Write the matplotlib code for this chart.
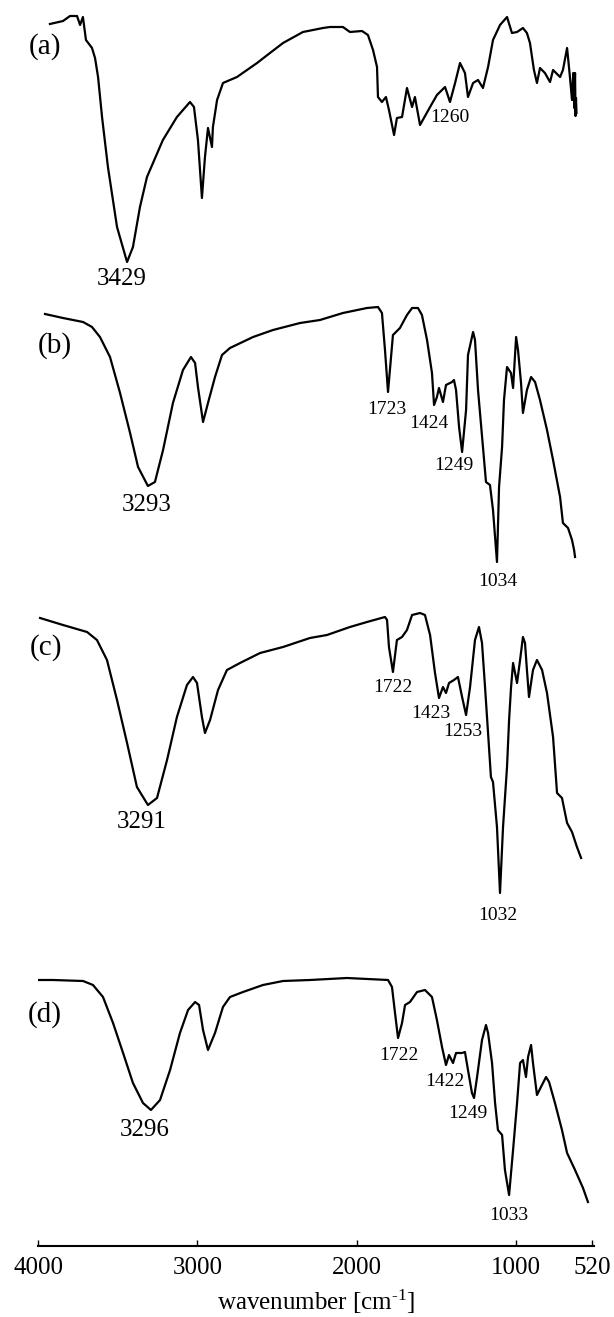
import matplotlib
matplotlib.use("Agg")
import matplotlib.pyplot as plt

plt.rcParams['font.family'] = ['Liberation Serif', 'DejaVu Serif']
plt.rcParams['mathtext.fontset'] = 'custom'
plt.rcParams['mathtext.rm'] = 'Liberation Serif'
plt.rcParams['mathtext.default'] = 'regular'

# spectrum (a)
wn_a = [3925, 3843, 3799, 3755, 3736, 3718, 3699, 3661, 3642, 3623, 3598, 3561, 3504, 3441,
        3404, 3360, 3316, 3216, 3128, 3046, 3021, 2996, 2971, 2952, 2933, 2908, 2902, 2876,
        2839, 2751, 2625, 2544, 2462, 2337, 2211, 2167, 2086, 2042, 1966, 1929, 1897, 1872,
        1866, 1841, 1816, 1797, 1765, 1747, 1715, 1684, 1652, 1634, 1602, 1539, 1496, 1445,
        1414, 1382, 1351, 1320, 1301, 1269, 1238, 1207, 1175, 1144, 1100, 1056, 1025, 993,
        956, 931, 912, 887, 868, 849, 818, 786, 767, 723, 705, 679, 661, 648, 640, 634,
        629, 626, 623, 620]
t_a = [252, 255, 260, 260, 251, 259, 236, 228, 218, 199, 159, 109, 49, 14,
       29, 69, 99, 136, 159, 174, 169, 136, 78, 119, 148, 129, 149, 176,
       193, 199, 213, 223, 233, 244, 248, 249, 249, 244, 245, 241, 226, 209,
       179, 174, 179, 166, 141, 158, 159, 188, 169, 179, 151, 169, 181, 189,
       174, 193, 213, 203, 179, 193, 196, 188, 209, 236, 251, 259, 243, 244,
       248, 243, 233, 206, 193, 208, 203, 194, 206, 199, 206, 228, 199, 176, 203, 168,
       203, 160, 178, 163]

# spectrum (b)
wn_b = [3956, 3843, 3717, 3661, 3611, 3548, 3485, 3422, 3372, 3310, 3266, 3215, 3153, 3090,
        3040, 3014, 2996, 2964, 2933, 2889, 2845, 2795, 2650, 2525, 2355, 2230, 2086, 1935,
        1866, 1841, 1822, 1803, 1772, 1728, 1684, 1652, 1615, 1590, 1558, 1527, 1514, 1496,
        1483, 1458, 1439, 1401, 1389, 1376, 1357, 1338, 1313, 1301, 1269, 1257, 1238, 1207,
        1188, 1163, 1144, 1119, 1106, 1087, 1075, 1056, 1031, 1018, 999, 987, 968, 956,
        931, 905, 880, 849, 805, 767, 723, 705, 673, 648, 635, 629]
t_b = [252, 248, 244, 239, 229, 209, 173, 133, 99, 80, 84, 116, 163, 196,
       209, 203, 179, 144, 163, 189, 211, 218, 229, 236, 243, 246, 253, 258,
       259, 253, 216, 174, 231, 238, 251, 258, 258, 251, 226, 193, 161, 169,
       178, 164, 181, 184, 186, 176, 139, 114, 156, 211, 234, 226, 176, 119,
       84, 81, 56, 4, 79, 119, 166, 199, 193, 178, 229, 216, 183, 153,
       176, 189, 184, 166, 136, 106, 69, 43, 38, 26, 16, 9]

# spectrum (c)
wn_c = [3987, 3843, 3692, 3630, 3567, 3504, 3441, 3379, 3310, 3253, 3190, 3128, 3065, 3027,
        3002, 2971, 2952, 2920, 2870, 2814, 2732, 2606, 2462, 2293, 2186, 2042, 1935, 1822,
        1809, 1797, 1772, 1747, 1715, 1684, 1652, 1602, 1571, 1539, 1508, 1483, 1458, 1439,
        1420, 1389, 1364, 1338, 1313, 1288, 1257, 1232, 1213, 1194, 1175, 1157, 1144, 1119,
        1100, 1081, 1056, 1043, 1031, 1018, 993, 974, 956, 943, 931, 918, 893, 868,
        836, 805, 767, 742, 711, 679, 648, 617, 591]
t_c = [278, 271, 264, 256, 236, 196, 153, 109, 91, 98, 136, 179, 211, 219,
       213, 179, 163, 176, 206, 226, 233, 243, 249, 258, 261, 269, 274, 279,
       276, 249, 224, 256, 259, 266, 281, 283, 281, 261, 223, 198, 209, 203,
       213, 216, 219, 199, 181, 209, 256, 269, 253, 209, 163, 119, 114, 69,
       3, 69, 129, 176, 208, 233, 213, 236, 259, 253, 226, 199, 226, 236,
       226, 203, 159, 103, 98, 73, 64, 49, 38]

# spectrum (d)
wn_d = [4000, 3906, 3717, 3655, 3592, 3529, 3466, 3404, 3341, 3291, 3234, 3171, 3109, 3058,
        3014, 2989, 2964, 2933, 2889, 2839, 2795, 2713, 2588, 2462, 2293, 2060, 1803, 1778,
        1759, 1740, 1715, 1696, 1665, 1621, 1571, 1527, 1496, 1464, 1439, 1420, 1395, 1376,
        1338, 1320, 1301, 1276, 1263, 1244, 1213, 1188, 1175, 1150, 1131, 1113, 1087, 1069,
        1043, 1018, 993, 974, 956, 937, 924, 905, 893, 868, 843, 811, 792, 755,
        711, 679, 629, 579, 548]
t_d = [266, 266, 265, 261, 249, 223, 193, 163, 143, 136, 146, 176, 213, 236,
       244, 241, 216, 196, 213, 239, 249, 254, 261, 265, 266, 268, 266, 259,
       233, 208, 223, 241, 244, 254, 256, 249, 226, 199, 181, 191, 183, 193,
       193, 194, 176, 153, 148, 169, 206, 221, 213, 183, 143, 116, 111, 76,
       51, 96, 143, 183, 186, 169, 189, 201, 183, 151, 159, 169, 164, 143,
       116, 93, 76, 58, 44]

spectra = [(wn_a, t_a), (wn_b, t_b), (wn_c, t_c), (wn_d, t_d)]
offsets = [970, 680, 350, 0]
panel_labels = ['(a)', '(b)', '(c)', '(d)']
panel_label_pos = [(3956, 229), (3896, 220), (3950, 248), (3956, 231)]

# peak labels: text, wavenumber position, height above the panel offset, size
peaks = [
    [('3429', 3473, -3, 18), ('1260', 1414, 159, 14)],
    [('3293', 3316, 61, 18), ('1723', 1809, 156, 14), ('1424', 1546, 142, 14),
     ('1249', 1389, 100, 14), ('1034', 1113, -15, 14)],
    [('3291', 3347, 74, 18), ('1722', 1772, 208, 14), ('1423', 1533, 183, 14),
     ('1253', 1332, 165, 14), ('1032', 1113, -19, 14)],
    [('3296', 3328, 116, 18), ('1722', 1734, 191, 14), ('1422', 1445, 165, 14),
     ('1249', 1301, 133, 14), ('1033', 1043, 31, 14)],
]

xticks = [4000, 3000, 2000, 1000, 520]

fig = plt.figure(figsize=(6.14, 13.17), dpi=100)
ax = fig.add_axes([38 / 614, 71 / 1317, 556 / 614, 1246 / 1317])

for (wn, t), off, lab, lpos, pk in zip(spectra, offsets, panel_labels, panel_label_pos, peaks):
    ax.plot(wn, [v + off for v in t], color='black', lw=1.6)
    ax.text(lpos[0], lpos[1] + off, lab, fontsize=21, ha='center', va='center')
    for txt, x, y, fs in pk:
        ax.text(x, y + off, txt, fontsize=fs, ha='center', va='center')

ax.set_xlim(4000, 510)
ax.set_ylim(0, 1246)
ax.set_xticks(xticks)
ax.set_xticklabels([str(v) for v in xticks])
ax.set_yticks([])
for s in ['top', 'left', 'right']:
    ax.spines[s].set_visible(False)
ax.spines['bottom'].set_linewidth(1.5)
ax.tick_params(axis='x', direction='in', length=4, width=1, labelsize=18, pad=8)
ax.set_xlabel('wavenumber [cm$^{\\text{-1}}$]', fontsize=18, labelpad=6)

fig.savefig('out.png', dpi=100)
